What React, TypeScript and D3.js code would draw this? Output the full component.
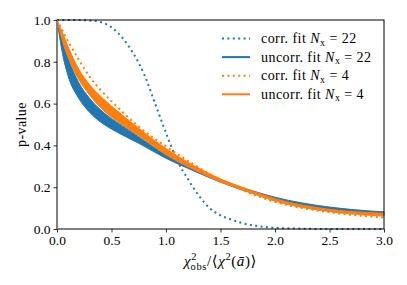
import React from "react";
import * as d3 from "d3";

// values
const xGrid = [0, 0.05, 0.1, 0.2, 0.3, 0.4, 0.5, 0.6, 0.75, 1.0, 1.25, 1.5, 1.75, 2.0, 2.5, 3.0];
const uncorr22Upper = [1.0, 0.9, 0.82, 0.7, 0.625, 0.57, 0.528, 0.493, 0.44, 0.356, 0.293, 0.235, 0.19, 0.152, 0.105, 0.082];
const uncorr22Lower = [1.0, 0.84, 0.735, 0.625, 0.558, 0.512, 0.478, 0.45, 0.41, 0.338, 0.279, 0.224, 0.178, 0.142, 0.094, 0.07];
const uncorr4Upper = [1.0, 0.94, 0.875, 0.765, 0.69, 0.635, 0.588, 0.545, 0.482, 0.385, 0.305, 0.24, 0.19, 0.145, 0.094, 0.075];
const uncorr4Lower = [1.0, 0.9, 0.825, 0.715, 0.64, 0.58, 0.535, 0.497, 0.445, 0.355, 0.285, 0.225, 0.178, 0.133, 0.083, 0.062];
const corr4 = [1.0, 0.95, 0.9, 0.81, 0.728, 0.665, 0.612, 0.56, 0.49, 0.395, 0.31, 0.235, 0.175, 0.13, 0.08, 0.055];

const corr22X = [0, 0.2, 0.3, 0.4, 0.5, 0.6, 0.7, 0.8, 0.9, 1.0, 1.1, 1.2, 1.3, 1.4, 1.5, 1.6, 1.7, 1.8, 2.0, 2.2, 2.5, 3.0];
const corr22 = [1.0, 1.0, 0.997, 0.99, 0.965, 0.915, 0.84, 0.74, 0.6, 0.46, 0.33, 0.24, 0.16, 0.1, 0.065, 0.045, 0.028, 0.017, 0.006, 0.002, 0.0, 0.0];

const xTicks = [0, 0.5, 1.0, 1.5, 2.0, 2.5, 3.0];
const yTicks = [0, 0.2, 0.4, 0.6, 0.8, 1.0];

const legendItems = [
  { pre: "corr. fit ", n: "22", color: "#1f77b4", dotted: true },
  { pre: "uncorr. fit ", n: "22", color: "#1f77b4", dotted: false },
  { pre: "corr. fit ", n: "4", color: "#ff7f0e", dotted: true },
  { pre: "uncorr. fit ", n: "4", color: "#ff7f0e", dotted: false },
];

const FONT = "'Liberation Serif', 'DejaVu Serif', 'Noto Serif', 'Times New Roman', Times, serif";

export default function App() {
  const ref = React.useRef<SVGSVGElement>(null);

  React.useEffect(() => {
    const width = 407;
    const height = 285;
    const marginTop = 20;
    const marginRight = 23;
    const marginBottom = 56;
    const marginLeft = 57;

    const svg = d3.select(ref.current);
    svg.selectAll("*").remove();
    svg.attr("width", width).attr("height", height).attr("viewBox", [0, 0, width, height])
      .style("font-family", FONT);

    const x = d3.scaleLinear().domain([0, 3]).range([marginLeft, width - marginRight]);
    const y = d3.scaleLinear().domain([0, 1]).range([height - marginBottom, marginTop]);

    const line = (xs: number[], ys: number[]) =>
      d3
        .line<number>()
        .x((_, i) => x(xs[i]))
        .y((d) => y(d))
        .curve(d3.curveMonotoneX)(ys);

    const area = (xs: number[], hi: number[], lo: number[]) =>
      d3
        .area<number>()
        .x((_, i) => x(xs[i]))
        .y0((_, i) => y(lo[i]))
        .y1((d) => y(d))
        .curve(d3.curveMonotoneX)(hi);

    const plot = svg.append("g");

    // corr. fit N=22
    plot.append("path")
      .attr("d", line(corr22X, corr22))
      .attr("fill", "none")
      .attr("stroke", "#1f77b4")
      .attr("stroke-width", 2)
      .attr("stroke-dasharray", "2,3.4");

    // uncorr. fit N=22 band
    plot.append("path")
      .attr("d", area(xGrid, uncorr22Upper, uncorr22Lower))
      .attr("fill", "#1f77b4")
      .attr("stroke", "#1f77b4")
      .attr("stroke-width", 1);

    // corr. fit N=4
    plot.append("path")
      .attr("d", line(xGrid, corr4))
      .attr("fill", "none")
      .attr("stroke", "#ff7f0e")
      .attr("stroke-width", 2)
      .attr("stroke-dasharray", "2,3.4");

    // uncorr. fit N=4 band
    plot.append("path")
      .attr("d", area(xGrid, uncorr4Upper, uncorr4Lower))
      .attr("fill", "#ff7f0e")
      .attr("stroke", "#ff7f0e")
      .attr("stroke-width", 1);

    // frame
    svg.append("rect")
      .attr("x", marginLeft)
      .attr("y", marginTop)
      .attr("width", width - marginLeft - marginRight)
      .attr("height", height - marginTop - marginBottom)
      .attr("fill", "none")
      .attr("stroke", "#000")
      .attr("stroke-width", 1);

    // gray line at x = 0
    svg.append("line")
      .attr("x1", x(0))
      .attr("x2", x(0))
      .attr("y1", y(1))
      .attr("y2", y(0))
      .attr("stroke", "#808080")
      .attr("stroke-width", 2);

    // axes
    const gx = svg.append("g")
      .attr("transform", `translate(0,${height - marginBottom})`)
      .call(d3.axisBottom(x).tickValues(xTicks).tickFormat(d3.format(".1f")).tickSize(3.5).tickPadding(3));
    const gy = svg.append("g")
      .attr("transform", `translate(${marginLeft},0)`)
      .call(d3.axisLeft(y).tickValues(yTicks).tickFormat(d3.format(".1f")).tickSize(3.5).tickPadding(3));
    for (const g of [gx, gy]) {
      g.attr("font-family", null).attr("font-size", null);
      g.select(".domain").remove();
      g.selectAll("text").style("font-family", FONT).style("font-size", "13.5px").attr("fill", "#000");
      g.selectAll("line").attr("stroke", "#000").attr("stroke-width", 0.8);
    }

    // y label
    svg.append("text")
      .attr("transform", `translate(26,${(y(0) + y(1)) / 2}) rotate(-90)`)
      .attr("text-anchor", "middle")
      .style("font-size", "14px")
      .style("letter-spacing", "0.4px")
      .text("p-value");

    // x label
    const xl = svg.append("text")
      .attr("x", (x(0) + x(3)) / 2)
      .attr("y", 266)
      .attr("text-anchor", "middle")
      .style("font-size", "15px")
      .style("letter-spacing", "0.6px");
    xl.append("tspan").attr("font-style", "italic").text("χ");
    xl.append("tspan").attr("font-size", 10.5).attr("dy", -6).text("2");
    xl.append("tspan").attr("font-size", 10.5).attr("dx", -6.5).attr("dy", 10).text("obs");
    xl.append("tspan").attr("dy", -4).text("/⟨");
    xl.append("tspan").attr("font-style", "italic").text("χ");
    xl.append("tspan").attr("font-size", 10.5).attr("dy", -6).text("2");
    xl.append("tspan").attr("dy", 6).text("(");
    xl.append("tspan").attr("font-style", "italic").text("ā");
    xl.append("tspan").text(")⟩");

    // legend
    const lg = svg.append("g");
    legendItems.forEach((d, i) => {
      const cy = 38.5 + i * 18.6;
      lg.append("line")
        .attr("x1", 222)
        .attr("x2", 250)
        .attr("y1", cy)
        .attr("y2", cy)
        .attr("stroke", d.color)
        .attr("stroke-width", 2)
        .attr("stroke-dasharray", d.dotted ? "2,3.4" : null);
      const t = lg.append("text")
        .attr("x", 261)
        .attr("y", cy + 4.5)
        .style("font-size", "14px")
        .style("letter-spacing", "0.45px");
      t.append("tspan").text(d.pre);
      t.append("tspan").attr("font-style", "italic").text("N");
      t.append("tspan").attr("font-size", 10).attr("dy", 2.5).text("x");
      t.append("tspan").attr("dy", -2.5).text(" = " + d.n);
    });
  }, []);

  return <svg ref={ref} style={{ position: "absolute", left: 0, top: 0 }}></svg>;
}
